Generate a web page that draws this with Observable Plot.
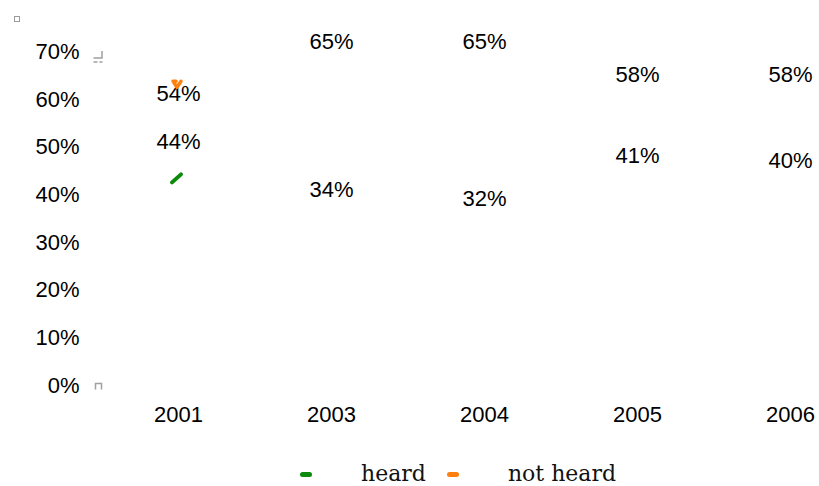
<!DOCTYPE html>
<html>
<head>
<meta charset="utf-8">
<script src="https://cdn.jsdelivr.net/npm/d3@7"></script>
<script src="https://cdn.jsdelivr.net/npm/@observablehq/plot@0.6"></script>
<style>
  html, body { margin: 0; padding: 0; background: #fff; }
  body { width: 819px; height: 486px; overflow: hidden; position: relative; font-family: "Liberation Sans", Arial, sans-serif; }
  #corner { position: absolute; left: 14px; top: 16px; width: 4px; height: 4px; border: 1.5px solid #9a9a9a; }
  #legend { position: absolute; left: 0; top: 440px; width: 819px; height: 46px; box-sizing: border-box;
            padding: 21px 0 0 300px; font-family: "DejaVu Serif", "Liberation Serif", serif; font-size: 22px;
            line-height: 26px; color: #111; white-space: nowrap; }
  #legend .sw { display: inline-block; width: 12px; height: 5px; border-radius: 3px; vertical-align: middle; margin-right: 49px; position: relative; top: -1px; }
  #legend .lab { display: inline-block; margin-right: 21px; }
</style>
</head>
<body>
<div id="corner"></div>
<div id="chart"></div>
<div id="legend"></div>
<script>
// Survey years and the share of respondents in each group
const years = ["2001", "2003", "2004", "2005", "2006"];
const heard = [0.44, 0.34, 0.32, 0.41, 0.40];
const notHeard = [0.54, 0.65, 0.65, 0.58, 0.58];
const yTicks = [0, 0.1, 0.2, 0.3, 0.4, 0.5, 0.6, 0.7];
const seriesNames = ["heard", "not heard"];
const seriesColors = ["#0b8a0b", "#ff7f0e"];

const pct = d3.format(".0%");

// Long table: one row per year and series
const rows = [
  ...years.map((year, i) => ({year, value: heard[i], series: seriesNames[0]})),
  ...years.map((year, i) => ({year, value: notHeard[i], series: seriesNames[1]}))
];
const firstYear = rows.filter(d => d.year === years[0]);

// Short stroke glyphs drawn at the first year of each series
const slash = {draw(ctx) { ctx.moveTo(-4.5, 4); ctx.lineTo(4.5, -4); }};
const vee = {draw(ctx) { ctx.moveTo(-4, -3); ctx.lineTo(0, 3); ctx.lineTo(4, -3); ctx.moveTo(-4, -3); ctx.lineTo(-1, -3); }};
// Small stubs left at the ends of the value axis
const capTop = {draw(ctx) { ctx.moveTo(3.5, -7); ctx.lineTo(3.5, 0); ctx.lineTo(-5, 0); ctx.moveTo(-5, 4); ctx.lineTo(-1, 4); ctx.moveTo(1, 4); ctx.lineTo(4, 4); }};
const capBottom = {draw(ctx) { ctx.moveTo(-3, 3); ctx.lineTo(-3, -3); ctx.lineTo(3, -3); ctx.lineTo(3, 3); }};

const chart = Plot.plot({
  width: 819,
  height: 440,
  marginLeft: 90,
  marginBottom: 55,
  marginTop: 51,
  marginRight: 29,
  style: {fontFamily: "Liberation Sans, Arial, sans-serif", fontSize: "22px", color: "#000", background: "transparent", overflow: "visible"},
  x: {type: "point", domain: years, range: [176.7, 790.5], padding: 0},
  y: {domain: [0, 0.7], range: [385, 51.5]},
  color: {domain: seriesNames, range: seriesColors},
  marks: [
    Plot.axisY({ticks: yTicks, tickFormat: pct, tickSize: 0, tickPadding: 11, fontSize: 22, label: null}),
    Plot.axisX({tickSize: 0, tickPadding: 21, fontSize: 22, label: null}),
    Plot.dot([0.7], {y: d => d, frameAnchor: "left", dx: 8, dy: 6, symbol: capTop, r: 4, fill: "none", stroke: "#a0a0a0", strokeWidth: 1.5}),
    Plot.dot([0], {y: d => d, frameAnchor: "left", dx: 8, dy: 1, symbol: capBottom, r: 4, fill: "none", stroke: "#a0a0a0", strokeWidth: 1.5}),
    Plot.text(rows, {x: "year", y: "value", text: d => pct(d.value), dy: -34, fill: "#000", fontSize: 22}),
    Plot.dot(firstYear.filter(d => d.series === seriesNames[0]), {
      x: "year", y: "value", symbol: slash, r: 4, dx: -2, dy: 2.5,
      fill: "none", stroke: "series", strokeWidth: 4, strokeLinecap: "round", strokeLinejoin: "round"
    }),
    Plot.dot(firstYear.filter(d => d.series === seriesNames[1]), {
      x: "year", y: "value", symbol: vee, r: 4, dx: -1.5, dy: -44,
      fill: "none", stroke: "series", strokeWidth: 3.5, strokeLinecap: "round", strokeLinejoin: "round"
    })
  ]
});
document.getElementById("chart").appendChild(chart);

// Legend under the chart
const legend = d3.select("#legend");
seriesNames.forEach((name, i) => {
  legend.append("span").attr("class", "sw").style("background", seriesColors[i]);
  legend.append("span").attr("class", "lab").text(name);
});
</script>
</body>
</html>
